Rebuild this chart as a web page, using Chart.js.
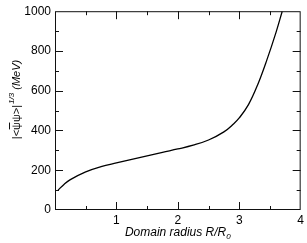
<!DOCTYPE html>
<html>
<head>
<meta charset="utf-8">
<script src="https://cdn.jsdelivr.net/npm/chart.js@4/dist/chart.umd.min.js"></script>
<style>
  html, body { margin: 0; padding: 0; background: #fff; }
  #wrap { width: 307px; height: 243px; }
</style>
</head>
<body>
<div id="wrap"><canvas class="chart-js"></canvas></div>
<script>
const ctx = document.querySelector('.chart-js').getContext('2d');

// radius R/R0 and condensate |<psibar psi>|^(1/3) in MeV
const radius = [0.05, 0.15, 0.25, 0.5, 0.75, 1.0, 1.25, 1.5, 1.75, 2.0, 2.25, 2.5, 2.75, 2.9, 3.0, 3.15, 3.3, 3.45, 3.6, 3.7];
const condensate = [100, 130, 153, 192, 218, 237, 255, 272, 290, 307, 326, 352, 393, 431, 463, 530, 630, 755, 895, 1000];
const xLabels = ['1', '2', '3', '4'];
const yLabels = ['0', '200', '400', '600', '800', '1000'];

const FONT = 'Liberation Sans, Arial, sans-serif';

const frameTicks = {
    id: 'frameTicks',
    afterDraw(chart) {
        const c = chart.ctx;
        const { left, right, top, bottom } = chart.chartArea;
        const xs = chart.scales.x, ys = chart.scales.y;
        c.save();
        c.strokeStyle = '#111';
        c.lineWidth = 1;
        c.strokeRect(left + 0.5, top + 0.5, right - left - 1, bottom - top - 1);
        c.beginPath();
        for (let v = 0.5; v < 4; v += 0.5) {
            const px = Math.round(xs.getPixelForValue(v)) + 0.5;
            const len = Number.isInteger(v) ? 8 : 4;
            c.moveTo(px, bottom); c.lineTo(px, bottom - len);
            c.moveTo(px, top); c.lineTo(px, top + len);
        }
        for (let v = 100; v < 1000; v += 100) {
            const py = Math.round(ys.getPixelForValue(v)) + 0.5;
            const len = v % 200 === 0 ? 8 : 4;
            c.moveTo(left, py); c.lineTo(left + len, py);
            c.moveTo(right, py); c.lineTo(right - len, py);
        }
        c.stroke();

        // x title: Domain radius R/R0
        c.fillStyle = '#000';
        c.textBaseline = 'alphabetic';
        const main = 'Domain radius R/R';
        c.font = 'italic 8px ' + FONT;
        const subW = c.measureText('0').width;
        c.font = 'italic 12px ' + FONT;
        const mainW = c.measureText(main).width;
        const cx = (left + right) / 2;
        const x0 = cx - (mainW + subW) / 2;
        c.fillText(main, x0, 236);
        c.font = 'italic 8px ' + FONT;
        c.fillText('0', x0 + mainW, 239);

        // y title: |<psibar psi>|^(1/3) (MeV)
        c.translate(20, 100);
        c.rotate(-Math.PI / 2);
        c.font = '11px ' + FONT;
        const p1 = '|<', p2 = '\u03c8', p3 = '\u03c8>|';
        const w1 = c.measureText(p1).width, w2 = c.measureText(p2).width, w3 = c.measureText(p3).width;
        c.font = 'italic 8px ' + FONT;
        const w4 = c.measureText('1/3').width;
        c.font = 'italic 11px ' + FONT;
        const w5 = c.measureText(' (MeV)').width;
        let x = -(w1 + w2 + w3 + w4 + w5) / 2;
        c.font = '11px ' + FONT;
        c.fillText(p1, x, 0); x += w1;
        c.fillText(p2, x, 0);
        c.beginPath(); c.moveTo(x + 0.5, -10.5); c.lineTo(x + w2 - 0.5, -10.5); c.stroke();
        x += w2;
        c.fillText(p3, x, 0); x += w3;
        c.font = 'italic 8px ' + FONT;
        c.fillText('1/3', x + 1, -6); x += w4 + 1;
        c.font = 'italic 11px ' + FONT;
        c.fillText(' (MeV)', x, 0);
        c.restore();
    }
};

new Chart(ctx, {
    type: 'scatter',
    data: {
        datasets: [{
            data: radius.map((r, i) => ({ x: r, y: condensate[i] })),
            showLine: true,
            borderColor: '#000',
            borderWidth: 1.3,
            pointRadius: 0,
            tension: 0.4,
            clip: 0
        }]
    },
    options: {
        responsive: true,
        maintainAspectRatio: false,
        animation: false,
        layout: { padding: { top: 6, right: 6, left: 0, bottom: 0 } },
        plugins: { legend: { display: false }, tooltip: { enabled: false } },
        scales: {
            x: {
                type: 'linear', min: 0, max: 4,
                grid: { display: false, drawTicks: false, tickLength: 0 },
                border: { display: false },
                afterFit(scale) { scale.height = 33; },
                ticks: {
                    stepSize: 0.5, padding: 3, color: '#000', maxRotation: 0, autoSkip: false,
                    font: { family: FONT, size: 12 },
                    callback(value) {
                        return Number.isInteger(value) && value > 0 ? xLabels[value - 1] : '';
                    }
                }
            },
            y: {
                min: 0, max: 1000,
                grid: { display: false, drawTicks: false, tickLength: 0 },
                border: { display: false },
                afterFit(scale) { scale.width = 55; },
                ticks: {
                    stepSize: 100, padding: 4, color: '#000', autoSkip: false,
                    font: { family: FONT, size: 12 },
                    callback(value) {
                        return value % 200 === 0 ? yLabels[value / 200] : '';
                    }
                }
            }
        }
    },
    plugins: [frameTicks]
});
</script>
</body>
</html>
